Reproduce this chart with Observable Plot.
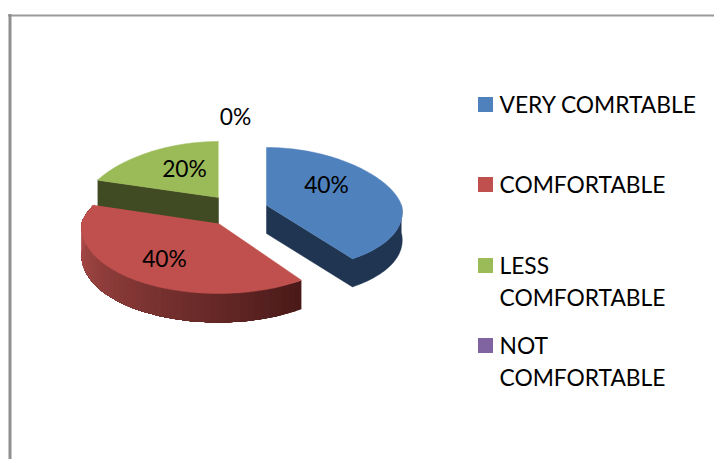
<!DOCTYPE html>
<html><head><meta charset="utf-8">
<script src="https://cdn.jsdelivr.net/npm/d3@7"></script>
<script src="https://cdn.jsdelivr.net/npm/@observablehq/plot@0.6"></script>
<style>html,body{margin:0;padding:0;background:#fff}svg{display:block}</style>
</head><body><div id="chart"></div>
<script>
const categories = ["VERY COMRTABLE", "COMFORTABLE", "LESS COMFORTABLE", "NOT COMFORTABLE"];
const legendLines = ["VERY COMRTABLE", "COMFORTABLE", "LESS\nCOMFORTABLE", "NOT\nCOMFORTABLE"];
const shares = [40, 40, 20, 0];
const topColors = ["#4f81bd", "#c0504d", "#9bbb59", "#8064a2"];
const sideColors = ["#1f3552", "#a94b48", "#404b23", "#4b3a60"];

// layout of the exploded, tilted pie (page pixels)
const apexX = [266, 218, 218, 218], apexY = [205, 223, 197, 197], radii = [135, 137, 133, 133];
const backRy = [58, 60, 56, 56], frontRy = [66, 70, 70, 70], backK = 19, frontK = [14, 5, 8, 8];
const depth = 28;
const rad = Math.PI / 180;
const FS = 22.8;

function rim(i, deg, drop = 0) {
  const c = Math.cos(deg * rad), s = Math.sin(deg * rad);
  const R = radii[i] - (c >= 0 ? backK : frontK[i]) * c;
  return {x: apexX[i] + R * s, y: apexY[i] - (c >= 0 ? backRy[i] : frontRy[i]) * c + drop};
}
function sweep(a, b, step = 1.5) {
  const n = Math.max(1, Math.ceil(Math.abs(b - a) / step));
  return d3.range(n + 1).map(k => a + (b - a) * k / n);
}
// angles come from the shares
let acc = 0;
const slices = shares.map((v, i) => {
  const start = acc / d3.sum(shares) * 360; acc += v;
  return {i, start, end: acc / d3.sum(shares) * 360};
});

const polys = [];
const wallStrips = [];
let pid = 0;
function poly(pts, fill, into = polys) { const id = pid++; pts.forEach(p => into.push({...p, id, fill})); }
const apex = (i, drop = 0) => ({x: apexX[i], y: apexY[i] + drop});

// green: cut face + top
{
  const s = slices[2];
  poly([rim(2, s.start), apex(2), apex(2, depth), rim(2, s.start, depth)], sideColors[2]);
  poly([apex(2), ...sweep(s.start, s.end).map(d => rim(2, d))], topColors[2]);
}
// blue: outer wall + cut face + top
{
  const s = slices[0];
  const arc = sweep(90, s.end);
  poly([...arc.map(d => rim(0, d)), apex(0), apex(0, depth), ...arc.slice().reverse().map(d => rim(0, d, depth))], sideColors[0]);
  poly([apex(0), ...sweep(s.start, s.end).map(d => rim(0, d))], topColors[0]);
}
// red: shaded outer wall (painted back to front so strips overlap), then top
const redTop = [];
{
  const s = slices[1];
  const shade = d3.interpolateRgb("#4a1a19", sideColors[1]);
  const last = 288;
  const arr = sweep(s.start, last, 3);
  arr.forEach((d, k) => {
    if (k === arr.length - 1) return;
    // each strip runs to the end of the wall; the next one paints over it
    const tail = sweep(d, last, 3);
    const pts = [...tail.map(a => rim(1, a)), ...tail.slice().reverse().map(a => rim(1, a, depth + 1))];
    poly(pts, shade(Math.min(1, (d - s.start) / 125)), wallStrips);
  });
  poly([apex(1), ...sweep(s.start, s.end).map(d => rim(1, d))], topColors[1], redTop);
}

const pctLabels = shares.map(v => v + "%");
const labelX = [326, 164, 184, 235], labelY = [185, 259, 169, 117];
const labelRows = shares.map((v, i) => i);
const legendX1 = 478, legendX2 = 493, legendTextX = 499;
const legendY = [97, 177, 258, 338];
const legendRows = categories.map((c, i) => i);

const chart = Plot.plot({
  width: 714, height: 459, margin: 0,
  x: {domain: [0, 714], range: [0, 714], axis: null},
  y: {domain: [0, 459], range: [0, 459], axis: null},
  color: {type: "identity"},
  style: {background: "#fff"},
  marks: [
    Plot.ruleY([15], {x1: 8, x2: 714, stroke: "#9a9a9a", strokeWidth: 2}),
    Plot.ruleX([9.5], {y1: 14, y2: 459, stroke: "#8f8f8f", strokeWidth: 3}),
    Plot.line(polys, {x: "x", y: "y", z: "id", fill: "fill", stroke: "fill", strokeWidth: 0.5}),
    // strips are ordered so the lightest (left) paints first; reverse draw order keeps dark on the right
    Plot.line(wallStrips.slice(), {x: "x", y: "y", z: "id", fill: "fill", stroke: "none"}),
    Plot.line(redTop, {x: "x", y: "y", z: "id", fill: "fill", stroke: "fill", strokeWidth: 0.5}),
    Plot.text(labelRows, {x: i => labelX[i], y: i => labelY[i], text: i => pctLabels[i],
      fontFamily: "Lato", fontSize: FS, fill: "#000"}),
    Plot.rect(legendRows, {x1: legendX1, x2: legendX2, y1: i => legendY[i], y2: i => legendY[i] + 15,
      fill: i => topColors[i]}),
    Plot.text(legendRows, {x: legendTextX, y: i => legendY[i] - 7, text: i => legendLines[i],
      textAnchor: "start", lineAnchor: "top", lineHeight: 32 / FS,
      fontFamily: "Lato", fontSize: FS, fill: "#000"})
  ]
});
document.getElementById("chart").append(chart);
</script></body></html>
